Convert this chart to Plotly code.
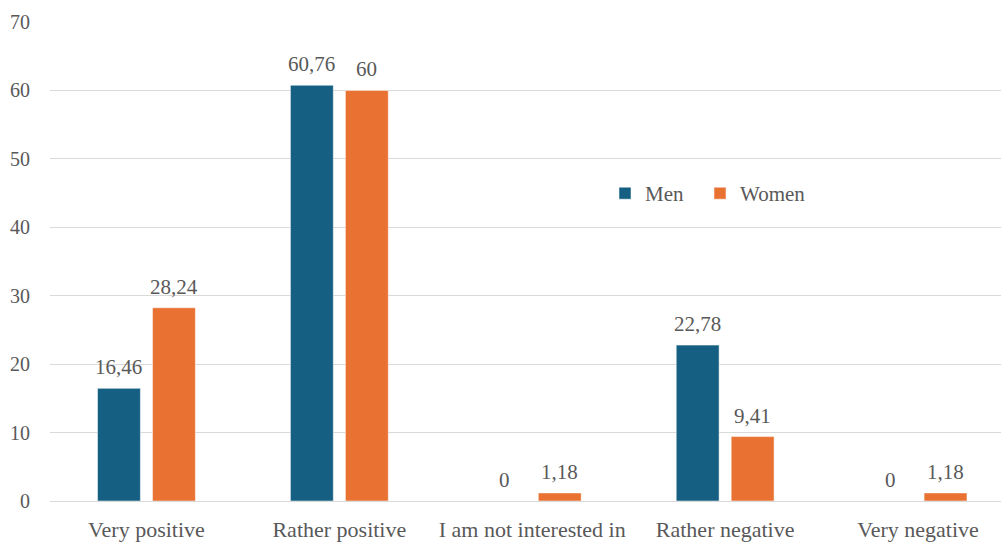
import plotly.graph_objects as go

categories = ["Very positive", "Rather positive", "I am not interested in", "Rather negative", "Very negative"]
men = [16.46, 60.76, 0, 22.78, 0]
women = [28.24, 60, 1.18, 9.41, 1.18]
y_ticks = [0, 10, 20, 30, 40, 50, 60, 70]

FONT = "Liberation Serif"
GRAY = "#595959"

def fmt(v):
    s = f"{v:.2f}".rstrip("0").rstrip(".")
    return s.replace(".", ",")

fig = go.Figure()
fig.add_trace(go.Bar(
    name="Men", x=categories, y=men, legend="legend",
    marker=dict(color="#156082", line=dict(color="white", width=0.5)),
))
fig.add_trace(go.Bar(
    name="Women", x=categories, y=women, legend="legend2",
    marker=dict(color="#E97132", line=dict(color="white", width=0.5)),
))

# data labels above bars
OFF = 27.5 / 193.0
annotations = []
for i, (m, w) in enumerate(zip(men, women)):
    for val, dx in ((m, -OFF), (w, OFF)):
        annotations.append(dict(
            x=i + dx, y=val, xref="x", yref="y", text=fmt(val),
            showarrow=False, yanchor="bottom", yshift=7,
            font=dict(family=FONT, size=21, color=GRAY),
        ))

PLOT_W = 951.0
PLOT_H = 483.0
leg_common = dict(
    orientation="h", xanchor="left", yanchor="middle",
    y=(505 - 195) / PLOT_H,
    bgcolor="rgba(0,0,0,0)", font=dict(family=FONT, size=21, color=GRAY),
)

fig.update_layout(
    width=1001, height=542,
    margin=dict(l=50, r=0, t=22, b=37),
    paper_bgcolor="white", plot_bgcolor="white",
    barmode="group", bargap=0.43, bargroupgap=0.22,
    font=dict(family=FONT, size=20, color=GRAY),
    showlegend=True,
    annotations=annotations,
    legend=dict(x=(605 - 50) / PLOT_W, **leg_common),
    legend2=dict(x=(700 - 50) / PLOT_W, **leg_common),
    xaxis=dict(
        type="category", range=[-0.5, 4.43], showgrid=False, showline=False,
        zeroline=False, ticks="outside", ticklen=9, tickcolor="rgba(0,0,0,0)",
        tickfont=dict(family=FONT, size=22, color=GRAY),
    ),
    yaxis=dict(
        range=[0, 70], tickvals=y_ticks, showgrid=True, gridcolor="#D9D9D9",
        gridwidth=1, zeroline=True, zerolinecolor="#D9D9D9", zerolinewidth=1,
        showline=False, ticks="outside", ticklen=15, tickcolor="rgba(0,0,0,0)",
        tickfont=dict(family=FONT, size=20, color=GRAY),
    ),
)

fig.write_html("out.html")
